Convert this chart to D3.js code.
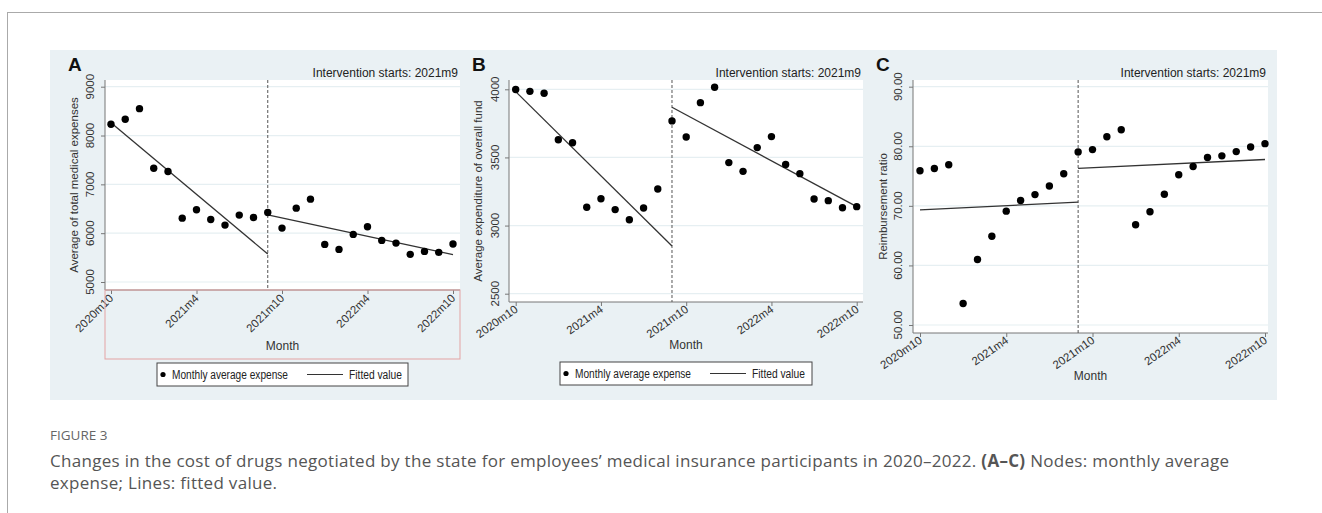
<!DOCTYPE html>
<html>
<head>
<meta charset="utf-8">
<script src="https://cdn.jsdelivr.net/npm/d3@7"></script>
<style>
body { margin: 0; background: #fff; }
svg text { font-family: "Liberation Sans", Arial, sans-serif; }
svg text.cap { font-family: "Open Sans", sans-serif; }
</style>
</head>
<body>
<svg id="fig" width="1322" height="513"></svg>
<script>
// months on the x axis, ticks, intervention point
var months = ["2020m10","2020m11","2020m12","2021m1","2021m2","2021m3","2021m4","2021m5","2021m6","2021m7","2021m8","2021m9",
	"2021m10","2021m11","2021m12","2022m1","2022m2","2022m3","2022m4","2022m5","2022m6","2022m7","2022m8","2022m9","2022m10"];
var xTicks = ["2020m10","2021m4","2021m10","2022m4","2022m10"];
var intervention = "2021m9";

// panel A : average of total medical expenses
var expenseA = [8230,8332,8550,7331,7262,6308,6479,6281,6165,6370,6322,6424,6104,6513,6697,5770,5668,5975,6131,5852,5797,5566,5627,5607,5777];
var fitPreA = [8264,5573];
var fitPostA = [6377,5559];
var yTicksA = [5000,6000,7000,8000,9000];

// panel B : average expenditure of overall fund
var fundB = [3998,3985,3971,3630,3608,3134,3197,3117,3043,3129,3268,3768,3650,3902,4015,3462,3398,3572,3653,3449,3381,3195,3183,3131,3139];
var fitPreB = [3983,2850];
var fitPostB = [3868,3139];
var yTicksB = [2500,3000,3500,4000];

// panel C : reimbursement ratio
var ratioC = [75.89,76.28,76.89,53.61,61.00,64.89,69.11,70.89,71.89,73.33,75.39,79.06,79.44,81.61,82.78,66.83,69.00,71.94,75.22,76.61,78.11,78.39,79.11,79.89,80.44];
var fitPreC = [69.33,70.61];
var fitPostC = [76.28,77.78];
var yTicksC = [50,60,70,80,90];

var svg = d3.select('#fig');

// page frame
svg.append('line').attr('x1', 7).attr('x2', 1322).attr('y1', 12.5).attr('y2', 12.5).style('stroke', '#aaa');
svg.append('line').attr('x1', 7.5).attr('x2', 7.5).attr('y1', 12).attr('y2', 513).style('stroke', '#aaa');

// figure background
svg.append('rect').attr('x', 50).attr('y', 50).attr('width', 1227).attr('height', 350).style('fill', '#eaf1f4');

var panels = [
	{letter: 'A', values: expenseA, pre: fitPreA, post: fitPostA, yTicks: yTicksA, fmt: d3.format('d'),
	 title: 'Average of total medical expenses',
	 left: 105, right: 460, top: 80, bottom: 290, x0: 111, x1: 453, yRange: [282, 86.7],
	 ylabX: 94, ytitleX: 78, angle: -45, monthY: 350, legend: {x: 157, y: 363, w: 251, h: 23}, redBox: true},
	{letter: 'B', values: fundB, pre: fitPreB, post: fitPostB, yTicks: yTicksB, fmt: d3.format('d'),
	 title: 'Average expenditure of overall fund',
	 left: 509, right: 863, top: 80, bottom: 302, x0: 515.7, x1: 856.7, yRange: [293.7, 89.3],
	 ylabX: 499, ytitleX: 482, angle: -35, monthY: 349, legend: {x: 560, y: 362, w: 252, h: 23}},
	{letter: 'C', values: ratioC, pre: fitPreC, post: fitPostC, yTicks: yTicksC, fmt: d3.format('.2f'),
	 title: 'Reimbursement ratio',
	 left: 913, right: 1268, top: 80, bottom: 333, x0: 920, x1: 1265, yRange: [325, 86.7],
	 ylabX: 902, ytitleX: 887, angle: -35, monthY: 380}
];

panels.forEach(drawPanel);

function drawPanel(p) {
	var x = d3.scaleLinear().domain([0, months.length - 1]).range([p.x0, p.x1]);
	var y = d3.scaleLinear().domain([p.yTicks[0], p.yTicks[p.yTicks.length - 1]]).range(p.yRange);
	var g = svg.append('g');

	g.append('rect').attr('x', p.left).attr('y', p.top).attr('width', p.right - p.left).attr('height', p.bottom - p.top)
		.style('fill', '#fff');

	// grid
	g.selectAll('.grid').data(p.yTicks).enter().append('line')
		.attr('x1', p.left).attr('x2', p.right)
		.attr('y1', function(d) { return y(d); }).attr('y2', function(d) { return y(d); })
		.style('stroke', '#e6eff2').style('stroke-width', 1.2);

	// y axis
	var yAxis = d3.axisLeft(y).tickValues(p.yTicks).tickSize(4).tickFormat('');
	g.append('g').attr('transform', 'translate(' + p.left + ',0)').call(yAxis)
		.call(function(a) { a.selectAll('path, line').style('stroke', '#777'); a.select('.domain').attr('d', 'M0,' + p.top + 'V' + p.bottom); });
	g.selectAll('.ylab').data(p.yTicks).enter().append('text')
		.attr('transform', function(d) { return 'translate(' + p.ylabX + ',' + y(d) + ') rotate(-90)'; })
		.style('text-anchor', 'middle').style('font-size', '11.5px').style('fill', '#333')
		.text(function(d) { return p.fmt(d); });
	g.append('text')
		.attr('transform', 'translate(' + p.ytitleX + ',' + ((p.top + p.bottom) / 2) + ') rotate(-90)')
		.style('text-anchor', 'middle').style('font-size', '11.5px').style('fill', '#333')
		.text(p.title);

	// x axis
	var xAxis = d3.axisBottom(x).tickValues(xTicks.map(function(t) { return months.indexOf(t); })).tickSize(4).tickFormat('');
	g.append('g').attr('transform', 'translate(0,' + p.bottom + ')').call(xAxis)
		.call(function(a) { a.selectAll('path, line').style('stroke', '#777'); a.select('.domain').attr('d', 'M' + p.left + ',0H' + p.right); });
	g.selectAll('.xlab').data(xTicks).enter().append('text')
		.attr('transform', function(d) { return 'translate(' + (x(months.indexOf(d)) + 3) + ',' + (p.bottom + 9) + ') rotate(' + p.angle + ')'; })
		.style('text-anchor', 'end').style('font-size', '11.5px').style('fill', '#333')
		.text(function(d) { return d; });
	g.append('text').attr('x', (p.left + p.right) / 2).attr('y', p.monthY)
		.style('text-anchor', 'middle').style('font-size', '12px').style('fill', '#333').text('Month');

	// intervention line
	var xi = x(months.indexOf(intervention));
	g.append('line').attr('x1', xi).attr('x2', xi).attr('y1', p.top).attr('y2', p.bottom)
		.style('stroke', '#555').style('stroke-dasharray', '3,2');

	// fitted lines
	var pre = [[0, p.pre[0]], [months.indexOf(intervention), p.pre[1]]];
	var post = [[months.indexOf(intervention), p.post[0]], [months.length - 1, p.post[1]]];
	var line = d3.line().x(function(d) { return x(d[0]); }).y(function(d) { return y(d[1]); });
	g.selectAll('.fit').data([pre, post]).enter().append('path').attr('d', line)
		.style('fill', 'none').style('stroke', '#333').style('stroke-width', 1.3);

	// points
	g.selectAll('.dot').data(p.values).enter().append('circle')
		.attr('cx', function(d, i) { return x(i); }).attr('cy', function(d) { return y(d); })
		.attr('r', 3.7).style('fill', '#000');

	g.append('text').attr('x', p.right - 2).attr('y', 77).style('text-anchor', 'end')
		.style('font-size', '12px').style('fill', '#222').text('Intervention starts: ' + intervention);
	g.append('text').attr('x', p.left - 37).attr('y', 71)
		.style('font-size', '19px').style('font-weight', 'bold').style('fill', '#111').text(p.letter);

	if (p.redBox) {
		g.append('rect').attr('x', p.left).attr('y', p.bottom).attr('width', p.right - p.left).attr('height', 69)
			.style('fill', 'none').style('stroke', '#e3a3a3');
	}

	if (p.legend) {
		var L = p.legend;
		var lg = g.append('g').attr('transform', 'translate(' + L.x + ',' + L.y + ')');
		lg.append('rect').attr('width', L.w).attr('height', L.h).style('fill', '#fff').style('stroke', '#444');
		lg.append('circle').attr('cx', 6).attr('cy', L.h / 2).attr('r', 2.6).style('fill', '#000');
		lg.append('text').attr('x', 15).attr('y', L.h / 2 + 4.5).attr('textLength', 116).attr('lengthAdjust', 'spacingAndGlyphs')
			.style('font-size', '12.5px').style('fill', '#222').text('Monthly average expense');
		lg.append('line').attr('x1', 150).attr('x2', 186).attr('y1', L.h / 2).attr('y2', L.h / 2).style('stroke', '#333');
		lg.append('text').attr('x', 192).attr('y', L.h / 2 + 4.5).attr('textLength', 53).attr('lengthAdjust', 'spacingAndGlyphs')
			.style('font-size', '12.5px').style('fill', '#222').text('Fitted value');
	}
}

// caption
svg.append('text').attr('class', 'cap').attr('x', 50).attr('y', 440).style('font-size', '13.5px').style('fill', '#666').text('FIGURE 3');
var line1 = svg.append('text').attr('class', 'cap').attr('x', 50).attr('y', 467)
	.style('font-size', '17px').style('letter-spacing', '0.3px').style('fill', '#555');
line1.append('tspan').text('Changes in the cost of drugs negotiated by the state for employees\u2019 medical insurance participants in 2020\u20132022. ');
line1.append('tspan').style('font-weight', 'bold').text('(A\u2013C)');
line1.append('tspan').text(' Nodes: monthly average');
svg.append('text').attr('class', 'cap').attr('x', 50).attr('y', 489)
	.style('font-size', '17px').style('letter-spacing', '0.3px').style('fill', '#555').text('expense; Lines: fitted value.');
</script>
</body>
</html>
